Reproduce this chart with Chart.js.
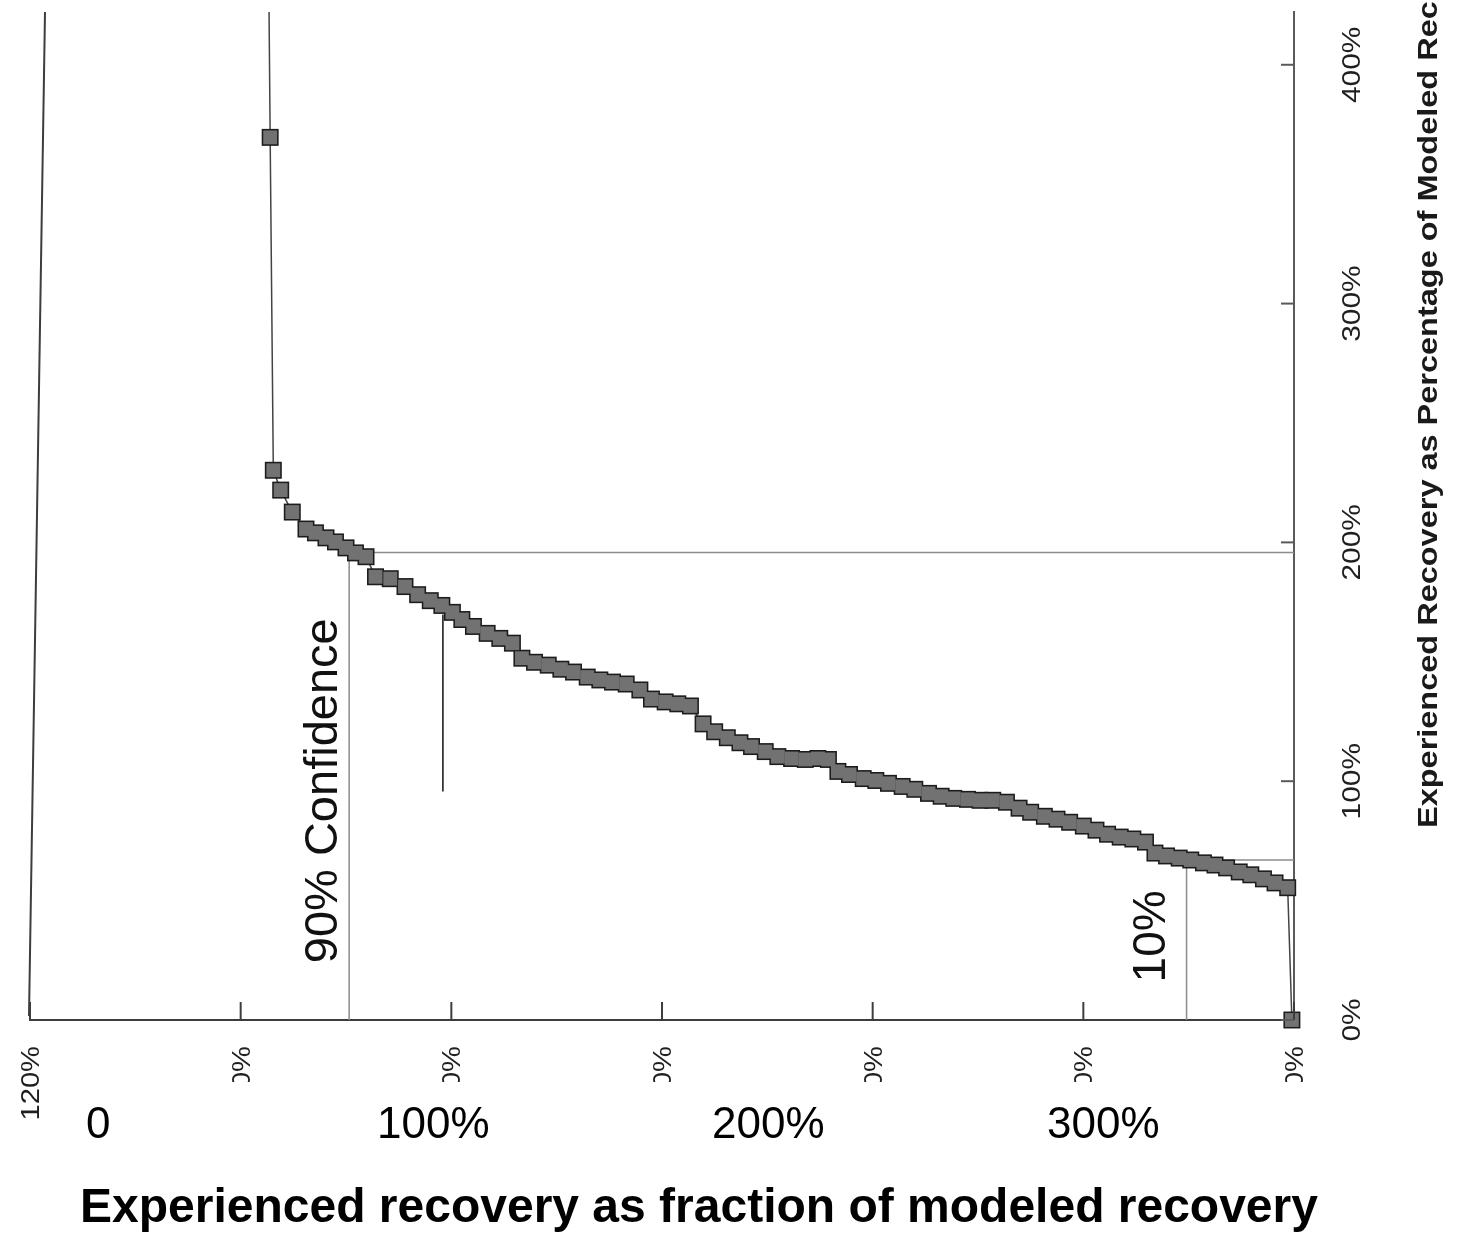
<!DOCTYPE html>
<html>
<head>
<meta charset="UTF-8">
<title>Experienced recovery</title>
<style>
  html, body { margin: 0; padding: 0; background: #fff; }
  #recoveryChart { display: block; }
</style>
</head>
<body>
<canvas id="recoveryChart" width="1466" height="1235"></canvas>

<script src="https://cdn.jsdelivr.net/npm/chart.js"></script>
<script>
// share of cases (%) and experienced recovery as % of modeled, ranked
const shareExceeding = [
  97.4, 97.2, 96.9, 96.2, 95.1,
  93.8, 92.9, 91.9, 91.0, 90.0, 89.1, 88.1,
  87.2, 85.8, 84.4, 83.2, 82.0, 80.9, 79.9, 79.0, 77.9, 76.6, 75.4, 74.2,
  73.3, 72.1, 70.8, 69.6, 68.4, 67.1, 65.9, 64.7, 63.4, 62.1, 61.0, 59.7, 58.5, 57.3,
  56.1, 55.0, 53.8, 52.6, 51.5, 50.2, 49.0, 47.7, 46.4, 45.2, 44.2,
  43.3, 42.2, 40.9, 39.7, 38.5, 37.2, 36.0, 34.7, 33.5, 32.3, 31.0, 29.8, 28.6, 27.3,
  26.1, 25.0, 23.7, 22.5, 21.3, 20.0, 18.8, 17.7, 16.5, 15.3, 14.1,
  13.2, 12.1, 10.9, 9.8, 8.6, 7.5, 6.4, 5.2, 4.1, 2.9, 1.8, 0.6,
  0.2
];
const recoveryPct = [
  470, 369.6, 230.2, 221.9, 212.7,
  205.6, 204.0, 201.9, 200.2, 197.7, 195.6, 194.0,
  185.6, 184.8, 181.5, 178.1, 175.6, 173.6, 170.7, 167.7, 164.8, 161.9, 159.8, 157.8,
  151.5, 149.8, 148.6, 146.9, 145.7, 143.6, 142.4, 141.5, 140.7, 138.2, 134.4, 133.2, 132.4, 131.5,
  124.0, 120.7, 118.2, 116.1, 114.5, 112.4, 110.3, 109.5, 109.1, 109.5, 109.1,
  104.1, 102.8, 101.1, 100.3, 99.1, 97.8, 96.6, 94.9, 93.7, 92.8, 92.4, 92.0, 92.0, 91.2,
  88.7, 87.0, 85.3, 84.1, 82.8, 81.2, 79.5, 77.8, 76.6, 75.8, 74.5,
  69.9, 68.7, 67.8, 67.0, 65.8, 64.9, 63.7, 62.0, 60.8, 59.1, 57.4, 55.4,
  0
];

// axis ticks
const shareTicks = [120, 100, 80, 60, 40, 20, 0];
const recoveryTicks = [0, 100, 200, 300, 400];
const fractionTicks = [0, 100, 200, 300];
const fractionLabels = ['0', '100%', '200%', '300%'];

// confidence markers and the 100% marker
const conf90Share = [89.7, 89.7, 0];
const conf90Rec = [0, 195.8, 195.8];
const conf10Share = [10.2, 10.2, 0];
const conf10Rec = [0, 67.0, 67.0];
const markShare = [80.8, 80.8];
const markRec = [95.7, 169.8];

const pts = (xs, ys) => xs.map((x, i) => ({ x: x, y: ys[i] }));
const noClip = { left: false, top: 0, right: false, bottom: false };

const FONT = "'Liberation Sans', Arial, sans-serif";

// text reading bottom-to-top, optionally stretched along its length
function upText(ctx, text, x, y, font, stretch, align) {
  ctx.save();
  ctx.translate(x, y);
  ctx.rotate(-Math.PI / 2);
  ctx.scale(stretch, 1);
  ctx.font = font;
  ctx.textAlign = align;
  ctx.textBaseline = 'alphabetic';
  ctx.fillText(text, 0, 0);
  ctx.restore();
}

const decor = {
  id: 'decor',
  afterDraw(chart) {
    const { ctx, chartArea: area, scales } = chart;
    const xs = scales.x, ys = scales.y, fs = scales.fraction;
    ctx.save();

    // left frame
    ctx.strokeStyle = '#3d3d3d';
    ctx.lineWidth = 2;
    ctx.beginPath();
    ctx.moveTo(area.left + 15, area.top);
    ctx.lineTo(area.left - 1, area.bottom - 4);
    ctx.stroke();

    // inward tick marks
    shareTicks.forEach(v => {
      const px = xs.getPixelForValue(v);
      ctx.beginPath();
      ctx.moveTo(px, area.bottom);
      ctx.lineTo(px, area.bottom - 18);
      ctx.stroke();
    });
    ctx.strokeStyle = '#5a5a5a';
    recoveryTicks.forEach(v => {
      const py = ys.getPixelForValue(v);
      ctx.beginPath();
      ctx.moveTo(area.right, py);
      ctx.lineTo(area.right - 13, py);
      ctx.stroke();
    });

    // tick labels
    ctx.fillStyle = '#1f1f1f';
    recoveryTicks.forEach(v => {
      upText(ctx, v + '%', area.right + 66, ys.getPixelForValue(v), '26px ' + FONT, 1.15, 'center');
    });
    shareTicks.forEach((v, i) => {
      ctx.save();
      if (i > 0) {
        ctx.beginPath();
        ctx.rect(0, 0, chart.width, area.bottom + 62);
        ctx.clip();
      }
      upText(ctx, v + '%', xs.getPixelForValue(v) + 9, area.bottom + 26, '26px ' + FONT, 1.12, 'right');
      ctx.restore();
    });

    // right axis title
    ctx.fillStyle = '#1a1a1a';
    upText(ctx, 'Experienced Recovery as Percentage of Modeled Recovery',
      area.right + 143, area.bottom - 192, 'bold 28px ' + FONT, 1.16, 'left');

    // marker labels
    ctx.fillStyle = '#111';
    upText(ctx, '90% Confidence', xs.getPixelForValue(90) - 9, ys.getPixelForValue(96), '47px ' + FONT, 1, 'center');
    upText(ctx, '10%', xs.getPixelForValue(10) - 24, ys.getPixelForValue(35), '46px ' + FONT, 1, 'center');

    // fraction scale labels and title
    ctx.fillStyle = '#000';
    ctx.font = '44px ' + FONT;
    ctx.textAlign = 'center';
    ctx.textBaseline = 'alphabetic';
    fractionTicks.forEach((v, i) => {
      ctx.fillText(fractionLabels[i], fs.getPixelForValue(v), area.bottom + 118);
    });
    ctx.font = 'bold 48px ' + FONT;
    ctx.fillText('Experienced recovery as fraction of modeled recovery', area.left + 669, area.bottom + 202);

    ctx.restore();
  }
};

const ctx = document.getElementById('recoveryChart').getContext('2d');
const recoveryChart = new Chart(ctx, {
  type: 'scatter',
  data: {
    datasets: [
      {
        // square fill
        data: pts(shareExceeding, recoveryPct),
        order: 0,
        showLine: false,
        pointStyle: 'rect',
        pointRadius: 9.8,
        pointBackgroundColor: '#727272',
        pointBorderWidth: 0,
        clip: noClip
      },
      {
        // square outline and connecting line
        data: pts(shareExceeding, recoveryPct),
        order: 1,
        showLine: true,
        borderColor: '#444',
        borderWidth: 1.5,
        pointStyle: 'rect',
        pointRadius: 12,
        pointBackgroundColor: '#1c1c1c',
        pointBorderWidth: 0,
        clip: noClip
      },
      {
        data: pts(conf90Share, conf90Rec),
        order: 2,
        showLine: true,
        borderColor: '#8c8c8c',
        borderWidth: 1.5,
        pointRadius: 0
      },
      {
        data: pts(conf10Share, conf10Rec),
        order: 3,
        showLine: true,
        borderColor: '#8c8c8c',
        borderWidth: 1.5,
        pointRadius: 0
      },
      {
        data: pts(markShare, markRec),
        order: 4,
        showLine: true,
        borderColor: '#111',
        borderWidth: 1.5,
        pointRadius: 0
      }
    ]
  },
  options: {
    responsive: false,
    animation: false,
    layout: { padding: { left: 30, top: 6, right: 0, bottom: 0 } },
    plugins: {
      legend: { display: false },
      tooltip: { enabled: false }
    },
    scales: {
      x: {
        type: 'linear',
        position: 'bottom',
        reverse: true,
        min: 0,
        max: 120,
        grid: { display: false },
        border: { display: true, color: '#3d3d3d', width: 2 },
        ticks: { display: false },
        afterFit(scale) { scale.height = 215; }
      },
      y: {
        type: 'linear',
        position: 'right',
        min: 0,
        max: 422.1,
        grid: { display: false },
        border: { display: true, color: '#5a5a5a', width: 2 },
        ticks: { display: false },
        afterFit(scale) { scale.width = 172; }
      },
      fraction: {
        type: 'linear',
        axis: 'x',
        position: 'bottom',
        display: false,
        min: -20.4,
        max: 356.9
      }
    }
  },
  plugins: [decor]
});
</script>
</body>
</html>
